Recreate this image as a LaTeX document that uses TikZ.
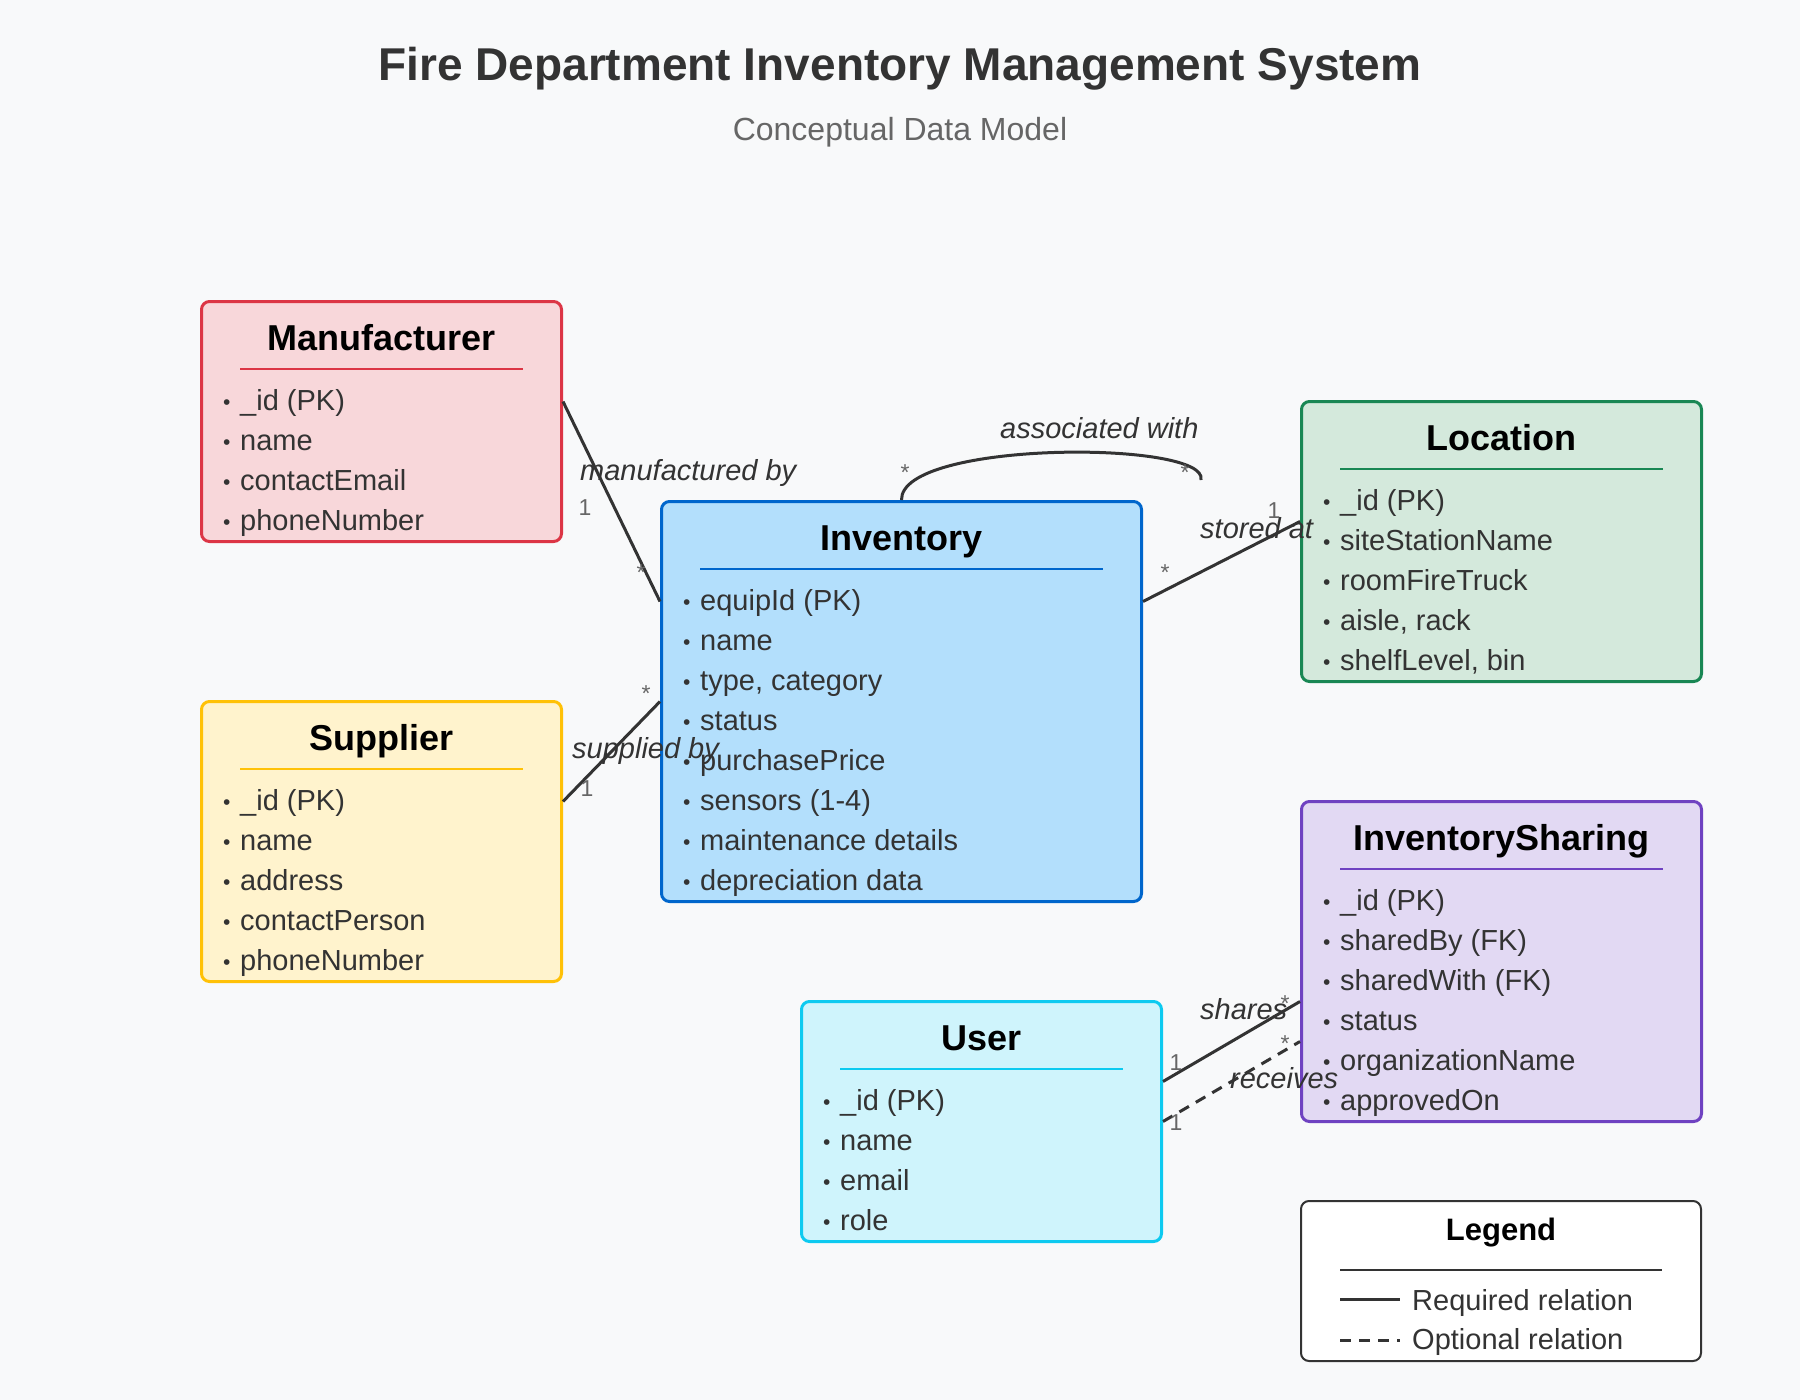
\documentclass[tikz,border=0pt]{standalone}
\usepackage{fontspec}
\setmainfont{Liberation Sans}
\usetikzlibrary{calc}
\definecolor{bgcol}{HTML}{F8F9FA}
\definecolor{c333}{HTML}{333333}
\definecolor{c666}{HTML}{666666}
\definecolor{mfrfill}{HTML}{F8D7DA}
\definecolor{mfrline}{HTML}{DC3545}
\definecolor{supfill}{HTML}{FFF3CD}
\definecolor{supline}{HTML}{FFC107}
\definecolor{invfill}{HTML}{B3DFFC}
\definecolor{invline}{HTML}{0066CC}
\definecolor{locfill}{HTML}{D4E9DC}
\definecolor{locline}{HTML}{198754}
\definecolor{sharfill}{HTML}{E2D9F3}
\definecolor{sharline}{HTML}{6F42C1}
\definecolor{userfill}{HTML}{CFF4FC}
\definecolor{userline}{HTML}{0DCAF0}
\tikzset{
  entbox/.style={rectangle, rounded corners=8pt, line width=3pt, inner sep=0pt},
  enttitle/.style={anchor=base, inner sep=0pt, font=\fontsize{36}{40}\selectfont\bfseries, text=black},
  attrtext/.style={anchor=base west, inner sep=0pt, font=\fontsize{29}{33}\selectfont, text=c333},
  bulletdot/.style={anchor=base west, inner sep=0pt, font=\fontsize{21}{25}\selectfont, text=c333},
  relline/.style={line width=3pt, draw=c333},
  optline/.style={relline, dash pattern=on 11pt off 8pt},
  rellbl/.style={anchor=base west, inner sep=0pt, font=\fontsize{29}{33}\selectfont\itshape, text=c333},
  cardlbl/.style={anchor=base, inner sep=0pt, font=\fontsize{23}{26}\selectfont, text=c666},
}
\newcommand\entitybox[9]{%
  \node[entbox, fill=#6, draw=#7, minimum width=#4pt, minimum height=#5pt, anchor=north west] (#1) at (#2,#3) {};
  \node[enttitle] (#1-t) at ($(#1.north)+(0,50)$) {#8};
  \draw[draw=#7, line width=1.8pt] ($(#1.north west)+(40,69)$) coordinate (#1-ul) -- ($(#1.north east)+(-40,69)$) coordinate (#1-ur);
  \foreach \a [count=\i] in {#9} {
    \node[bulletdot] (#1-b\i) at ($(#1.north west)+(23,{109+40*(\i-1)})$) {\textbullet};
    \node[attrtext] (#1-a\i) at ($(#1.north west)+(40,{110+40*(\i-1)})$) {\a};
  }%
}
\begin{document}
\begin{tikzpicture}[x=1pt, y=-1pt]
\useasboundingbox (0,0) rectangle (1800,1400);
\fill[bgcol] (0,0) rectangle (1800,1400);

\node[anchor=base, inner sep=0pt, font=\fontsize{46}{50}\selectfont\bfseries, text=c333] (title) at (900,80) {Fire Department Inventory Management System};
\node[anchor=base, inner sep=0pt, font=\fontsize{32}{36}\selectfont, text=c666] (subtitle) at (900,140) {Conceptual Data Model};

\entitybox{mfr}{200}{300}{360}{240}{mfrfill}{mfrline}{Manufacturer}{\_id (PK), name, contactEmail, phoneNumber}
\entitybox{sup}{200}{700}{360}{280}{supfill}{supline}{Supplier}{\_id (PK), name, address, contactPerson, phoneNumber}
\entitybox{inv}{660}{500}{480}{400}{invfill}{invline}{Inventory}{equipId (PK), name, {type, category}, status, purchasePrice, sensors (1-4), maintenance details, depreciation data}
\entitybox{loc}{1300}{400}{400}{280}{locfill}{locline}{Location}{\_id (PK), siteStationName, roomFireTruck, {aisle, rack}, {shelfLevel, bin}}
\entitybox{shar}{1300}{800}{400}{320}{sharfill}{sharline}{InventorySharing}{\_id (PK), sharedBy (FK), sharedWith (FK), status, organizationName, approvedOn}
\entitybox{user}{800}{1000}{360}{240}{userfill}{userline}{User}{\_id (PK), name, email, role}

% relations
\draw[relline] ([yshift=20pt]mfr.east) -- ([yshift=100pt]inv.west);
\draw[relline] ([yshift=40pt]sup.east) -- (inv.west);
\draw[relline] ([yshift=100pt]inv.east) -- ([yshift=20pt]loc.west);
\coordinate (loopend) at (1201,480);
\draw[relline] (inv.north) .. controls (900,440) and (1210,440) .. (loopend);
\draw[relline] ([yshift=40pt]user.east) -- ([yshift=-40pt]shar.west);
\draw[optline] (user.east) -- ([yshift=-80pt]shar.west);

% relation labels
\node[rellbl] (lmfr) at (580,480) {manufactured by};
\node[rellbl] (lsup) at (572,758) {supplied by};
\node[rellbl] (lloc) at (1200,538) {stored at};
\node[rellbl] (lassoc) at (1000,438) {associated with};
\node[rellbl] (lshares) at (1200,1019) {shares};
\node[rellbl] (lrecv) at (1230,1088) {receives};

% cardinalities
\node[cardlbl] (k1) at (585,515) {1};
\node[cardlbl] (k2) at (641,580) {*};
\node[cardlbl] (k3) at (587,796) {1};
\node[cardlbl] (k4) at (646,701) {*};
\node[cardlbl] (k5) at (1165,580) {*};
\node[cardlbl] (k6) at (1274,518) {1};
\node[cardlbl] (k7) at (905,480) {*};
\node[cardlbl] (k8) at (1185,480) {*};
\node[cardlbl] (k9) at (1176,1070) {1};
\node[cardlbl] (k10) at (1285,1011) {*};
\node[cardlbl] (k11) at (1285,1051) {*};
\node[cardlbl] (k12) at (1176,1130) {1};

% legend
\node[entbox, fill=white, draw=c333, line width=2pt, minimum width=400pt, minimum height=160pt, anchor=north west] (legend) at (1300,1200) {};
\node[anchor=base, inner sep=0pt, font=\fontsize{31}{35}\selectfont\bfseries, text=black] (legt) at ($(legend.north)+(0,40)$) {Legend};
\draw[c333, line width=1.8pt] ($(legend.north west)+(40,70)$) coordinate (lgul) -- ($(legend.north east)+(-40,70)$) coordinate (lgur);
\coordinate (sol1) at (1340,1299);
\coordinate (sol2) at (1400,1299);
\draw[relline] (sol1) -- (sol2);
\node[attrtext] (legreq) at (1412,1310) {Required relation};
\coordinate (dsh1) at (1340,1340);
\coordinate (dsh2) at (1400,1340);
\draw[optline] (dsh1) -- (dsh2);
\node[attrtext] (legopt) at (1412,1349) {Optional relation};
\end{tikzpicture}
\end{document}
